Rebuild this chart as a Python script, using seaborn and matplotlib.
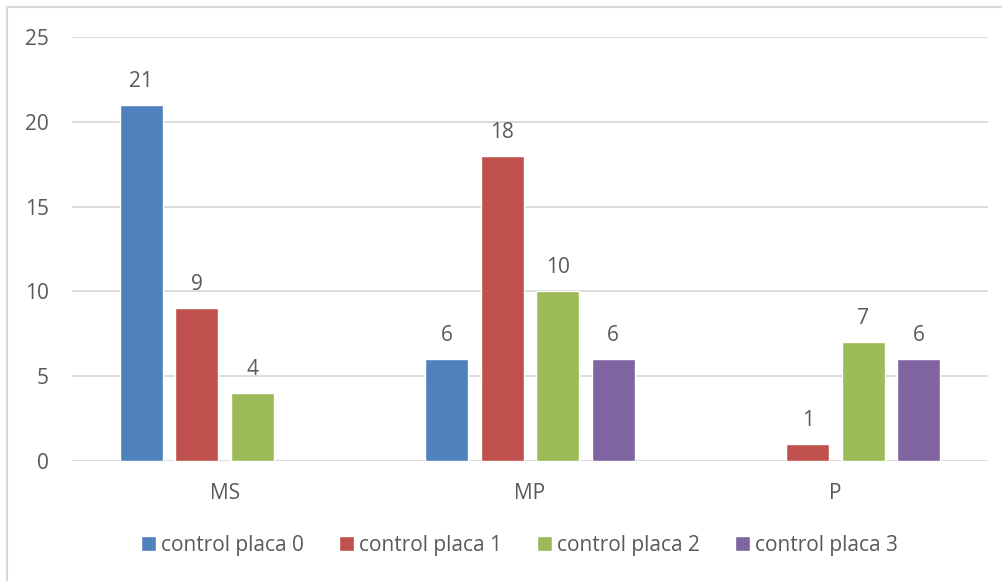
import numpy as np
import pandas as pd
import matplotlib
matplotlib.use("Agg")
import matplotlib.pyplot as plt
from matplotlib.patches import Rectangle
import seaborn as sns

categories = ["MS", "MP", "P"]
series = ["control placa 0", "control placa 1", "control placa 2", "control placa 3"]
placa0 = [21, 6, np.nan]
placa1 = [9, 18, 1]
placa2 = [4, 10, 7]
placa3 = [np.nan, 6, 6]
colors = ["#4F81BD", "#C0504D", "#9BBB59", "#8064A2"]

rows = []
for name, vals in zip(series, [placa0, placa1, placa2, placa3]):
    for cat, v in zip(categories, vals):
        rows.append({"cat": cat, "serie": name, "valor": v})
df = pd.DataFrame(rows)

sns.set_theme(style="white")
plt.rcParams["font.family"] = ["Open Sans", "DejaVu Sans"]
text_color = "#595959"
grid_color = "#D9D9D9"
fs = 15

fig = plt.figure(figsize=(10.03, 5.81), dpi=100)
ax = fig.add_axes([72 / 1003, 1 - 461 / 581, (988 - 72) / 1003, (461 - 37) / 581])

sns.barplot(data=df.dropna(), x="cat", y="valor", hue="serie", order=categories,
            hue_order=series, palette=colors, width=0.727, gap=0.225,
            saturation=1, errorbar=None, ax=ax, legend=True)

for c in ax.containers:
    ax.bar_label(c, fmt="%g", padding=9.5, fontsize=fs, color=text_color)

ax.set_ylim(0, 25)
ax.set_yticks([0, 5, 10, 15, 20, 25])
ax.set_xlim(-0.5, 2.5)
ax.yaxis.grid(True, color=grid_color, linewidth=1.3)
ax.set_axisbelow(True)
for s in ax.spines.values():
    s.set_visible(False)
ax.tick_params(axis="y", length=0, pad=16.5, labelsize=fs, labelcolor=text_color)
ax.tick_params(axis="x", length=0, pad=16, labelsize=fs, labelcolor=text_color)
ax.set_xlabel("")
ax.set_ylabel("")

handles, labels = ax.get_legend_handles_labels()
ax.get_legend().remove()
fig.legend(handles, labels, loc="center", bbox_to_anchor=(0.518, 1 - 545 / 581),
           ncol=4, frameon=False, fontsize=fs, labelcolor=text_color,
           handlelength=0.7, handleheight=0.7, handletextpad=0.25,
           columnspacing=1.7)

fig.patches.append(Rectangle((7 / 1003, -0.1), 1.2, 1.1 - 7 / 581, transform=fig.transFigure,
                             fill=False, edgecolor=grid_color, linewidth=1.5))

fig.savefig("out.png", dpi=100)
